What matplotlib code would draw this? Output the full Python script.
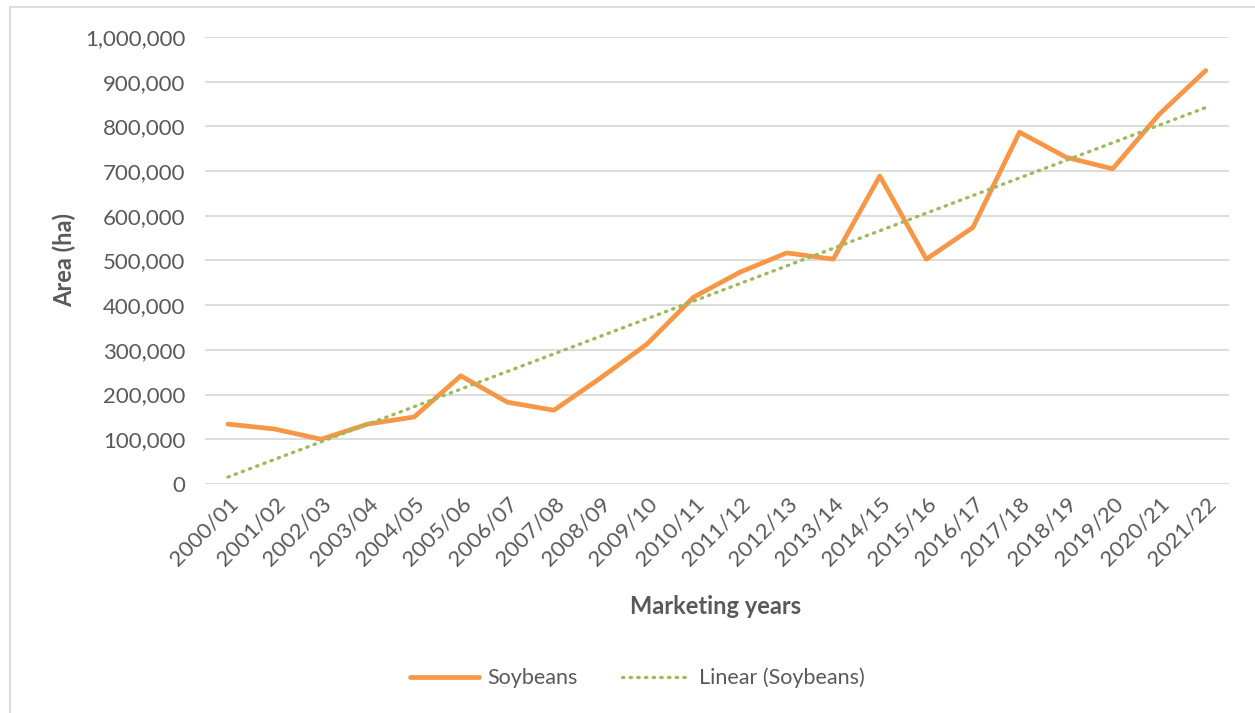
import numpy as np
import matplotlib.pyplot as plt
from matplotlib.patches import Rectangle

#marketing years and soybean area (ha)
years = ["2000/01", "2001/02", "2002/03", "2003/04", "2004/05", "2005/06",
         "2006/07", "2007/08", "2008/09", "2009/10", "2010/11", "2011/12",
         "2012/13", "2013/14", "2014/15", "2015/16", "2016/17", "2017/18",
         "2018/19", "2019/20", "2020/21", "2021/22"]
soybeans = [134000, 123000, 100000, 134000, 150000, 242000,
            183000, 165000, 237000, 313000, 418000, 474000,
            517000, 503000, 689000, 503000, 574000, 787000,
            731000, 705000, 827000, 925000]

plt.rcParams['font.family'] = ['Lato', 'DejaVu Sans']
text_col = '#595959'

fig = plt.figure(figsize=(12.55, 7.13), dpi=100)
ax = fig.add_axes([0.1631, 0.3212, 0.8162, 0.6269])

x = np.arange(len(years))
ax.plot(x, soybeans, color='#F79646', linewidth=3.4, solid_capstyle='round',
        solid_joinstyle='round', label='Soybeans', zorder=3)

#linear trendline like excel
k, b = np.polyfit(x, soybeans, 1)
ax.plot(x, k * x + b, color='#9BBB59', linewidth=2.4, linestyle=(0, (0.4, 1.9)),
        dash_capstyle='round', label='Linear (Soybeans)', zorder=4)

ax.set_xlim(-0.5, len(years) - 0.5)
ax.set_ylim(0, 1000000)
ax.set_yticks(np.arange(0, 1000001, 100000))
ax.yaxis.set_major_formatter(plt.FuncFormatter(lambda v, p: f"{int(v):,}"))
ax.set_xticks(x)
ax.set_xticklabels(years, rotation=45, ha='right', rotation_mode='anchor')

ax.grid(axis='y', color='#D9D9D9', linewidth=1.3)
ax.set_axisbelow(True)
for s in ax.spines.values():
    s.set_visible(False)
ax.tick_params(length=0, labelsize=16, colors=text_col)
ax.tick_params(axis='y', pad=14)
ax.tick_params(axis='x', pad=7)

ax.set_ylabel("Area (ha)", fontsize=17, fontweight='bold', color=text_col, labelpad=6)
fig.text(0.5705, 1 - 607 / 713, "Marketing years", fontsize=17, fontweight='bold',
         color=text_col, ha='center', va='center')

fig.legend(loc='center', bbox_to_anchor=(0.508, 1 - 678 / 713), ncol=2, frameon=False,
           fontsize=15.5, labelcolor=text_col, handlelength=3.2, handletextpad=0.35,
           columnspacing=2.1)

#chart area border
fig.patches.append(Rectangle((10 / 1255, -0.01), 1.0, 1 - 7 / 713 + 0.01,
                             transform=fig.transFigure, fill=False,
                             edgecolor='#D9D9D9', linewidth=1.3))

fig.savefig("out.png", dpi=100)
